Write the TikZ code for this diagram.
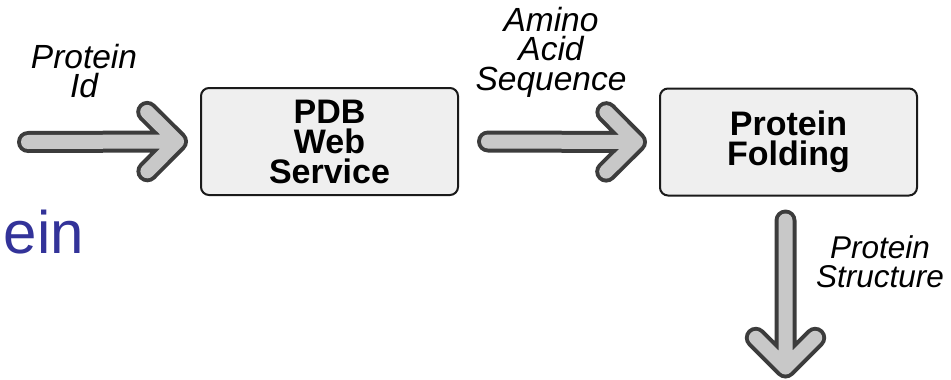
\documentclass[tikz,border=0pt]{standalone}
\usepackage{fontspec}
\setmainfont{Liberation Sans}
\usetikzlibrary{calc}
\definecolor{boxfill}{HTML}{EFEFEF}
\definecolor{boxline}{HTML}{1A1A1A}
\definecolor{arrowfill}{HTML}{C8C8C8}
\definecolor{arrowline}{HTML}{3C3C3C}
\definecolor{titleblue}{HTML}{333399}
\begin{document}
\begin{tikzpicture}[x=1pt,y=-1pt,
  procbox/.style={draw=boxline, fill=boxfill, line width=2pt, rounded corners=8pt,
    minimum width=257pt, minimum height=107pt, inner sep=0pt, align=center,
    font=\fontsize{34}{30}\selectfont\bfseries},
  flowlabel/.style={inner sep=0pt, align=center, font=\fontsize{33.5}{29.5}\selectfont\itshape},
  fatarrow/.style={draw=arrowline, line width=4pt, double=arrowfill, double distance=14pt,
    line cap=round, line join=round}]
\useasboundingbox[fill=white] (0,0) rectangle (951,380);

\node[procbox] (pdb) at (329.5,141.5) {PDB\\Web\\Service};
\node[procbox] (fold) at (788.5,142) {Protein\\Folding};

\coordinate (in) at (28,142);
\coordinate (t1) at ($(pdb.west)+(-23,0)$);
\coordinate (s2) at ($(pdb.east)+(29,0)$);
\coordinate (t2) at ($(fold.west)+(-23,0)$);
\coordinate (s3) at ($(fold.south)+(-3,24)$);
\coordinate (t3) at ($(s3)+(0,147)$);

\draw[fatarrow] (in) -- (t1) ($(t1)!42pt!45:(in)$) -- (t1) -- ($(t1)!42pt!-45:(in)$);
\draw[fatarrow] (s2) -- (t2) ($(t2)!42pt!45:(s2)$) -- (t2) -- ($(t2)!42pt!-45:(s2)$);
\draw[fatarrow] (s3) -- (t3) ($(t3)!42pt!45:(s3)$) -- (t3) -- ($(t3)!42pt!-45:(s3)$);

\node[flowlabel] (lid) at (84,71) {Protein\\Id};
\node[flowlabel] (laa) at (551,52) {Amino\\Acid\\Sequence};
\node[flowlabel, font=\fontsize{31.5}{28.5}\selectfont\itshape] (lps) at (880,261.5) {Protein\\Structure};
\node[font=\fontsize{60}{60}\selectfont, text=titleblue, anchor=base east, inner sep=0pt] (title) at (84,253) {ein};
\end{tikzpicture}
\end{document}
